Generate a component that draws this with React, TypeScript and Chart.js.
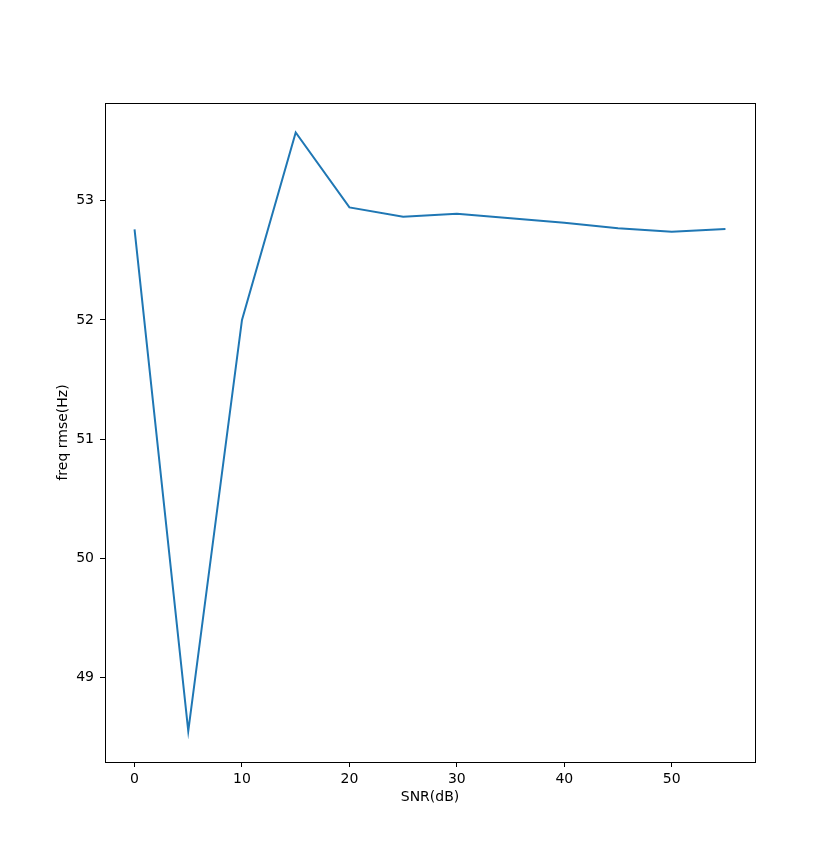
import React, { useEffect, useRef } from "react";
import { Chart, registerables } from "chart.js";

Chart.register(...registerables);

const snr = [0, 5, 10, 15, 20, 25, 30, 35, 40, 45, 50, 55];
const rmse = [52.76, 48.55, 52.0, 53.573, 52.944, 52.866, 52.891, 52.852, 52.816, 52.769, 52.74, 52.763];
const xTicks = [0, 10, 20, 30, 40, 50];
const yTicks = [49, 50, 51, 52, 53];

const framePlugin = {
  id: "frame",
  afterDraw(chart: any) {
    const { ctx, chartArea } = chart;
    ctx.save();
    ctx.strokeStyle = "#000";
    ctx.lineWidth = 1;
    ctx.strokeRect(
      Math.round(chartArea.left) + 0.5,
      Math.round(chartArea.top) + 0.5,
      Math.round(chartArea.right - chartArea.left),
      Math.round(chartArea.bottom - chartArea.top)
    );
    ctx.restore();
  },
};

export default function App() {
  const ref = useRef<HTMLCanvasElement>(null);
  useEffect(() => {
    if (!ref.current) return;
    const font = { family: "DejaVu Sans", size: 14 };
    const chart = new Chart(ref.current, {
      type: "line",
      data: {
        datasets: [
          {
            data: snr.map((x, i) => ({ x, y: rmse[i] })),
            borderColor: "#1f77b4",
            borderWidth: 2,
            pointRadius: 0,
            tension: 0,
            fill: false,
          },
        ],
      },
      options: {
        animation: false,
        responsive: false,
        maintainAspectRatio: false,
        layout: { padding: { left: 0, right: 84, top: 103, bottom: 0 } },
        plugins: { legend: { display: false }, tooltip: { enabled: false } },
        scales: {
          x: {
            type: "linear",
            min: -2.75,
            max: 57.75,
            afterBuildTicks: (s: any) => {
              s.ticks = xTicks.map((v) => ({ value: v }));
            },
            afterFit: (s: any) => {
              s.height = 94;
            },
            grid: { drawOnChartArea: false, drawTicks: true, tickLength: 5, color: "#000" },
            border: { display: true, color: "#000", width: 1 },
            ticks: { color: "#000", font, padding: 4, maxRotation: 0 },
            title: { display: true, text: "SNR(dB)", color: "#000", font, padding: { top: 0, bottom: 50 } },
          },
          y: {
            type: "linear",
            min: 48.29,
            max: 53.82,
            afterBuildTicks: (s: any) => {
              s.ticks = yTicks.map((v) => ({ value: v }));
            },
            afterFit: (s: any) => {
              s.width = 105;
            },
            grid: { drawOnChartArea: false, drawTicks: true, tickLength: 5, color: "#000" },
            border: { display: true, color: "#000", width: 1 },
            ticks: { color: "#000", font, padding: 6 },
            title: { display: true, text: "freq rmse(Hz)", color: "#000", font, padding: { top: 55, bottom: 0 } },
          },
        },
      },
      plugins: [framePlugin],
    });
    return () => chart.destroy();
  }, []);
  return (
    <div style={{ position: "fixed", left: 0, top: 0, width: 839, height: 856, background: "#fff" }}>
      <canvas ref={ref} width={839} height={856} style={{ width: 839, height: 856 }} />
    </div>
  );
}
